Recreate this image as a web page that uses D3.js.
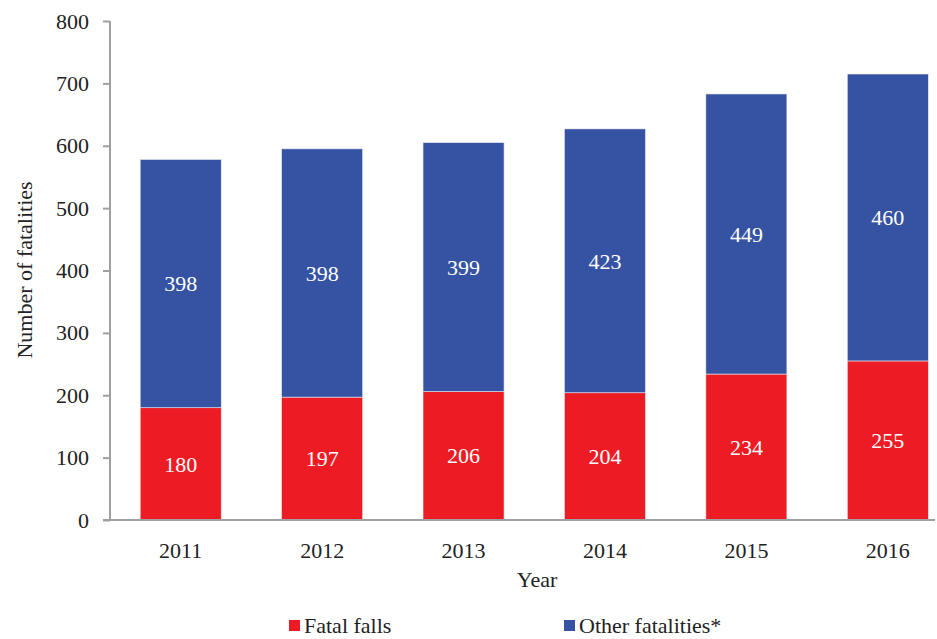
<!DOCTYPE html>
<html>
<head>
<meta charset="utf-8">
<script src="https://cdn.jsdelivr.net/npm/d3@7"></script>
<style>
  body { margin: 0; background: #fff; }
  .axis path, .axis line { stroke: #a0a0a0; stroke-width: 2px; }
</style>
</head>
<body>
<svg id="chart" width="937" height="639"></svg>
<script>
var years = ["2011", "2012", "2013", "2014", "2015", "2016"];
var fatalFalls = [180, 197, 206, 204, 234, 255];
var otherFatalities = [398, 398, 399, 423, 449, 460];
var yTicks = [0, 100, 200, 300, 400, 500, 600, 700, 800];
var seriesNames = ["Fatal falls", "Other fatalities*"];
var colors = ["#ed1c24", "#3653a3"];

var font = "'Liberation Serif', 'Times New Roman', serif";

var svg = d3.select("#chart");

var x = d3.scaleBand()
    .domain(years)
    .range([110, 958.5])
    .paddingInner(0.427)
    .paddingOuter(0.2135);

var y = d3.scaleLinear()
    .domain([0, 800])
    .range([520, 21]);

var data = years.map(function (d, i) {
    return { year: d, falls: fatalFalls[i], other: otherFatalities[i] };
});
var stacked = d3.stack().keys(["falls", "other"])(data);

// y axis
var yAxis = svg.append("g")
    .attr("class", "axis")
    .attr("transform", "translate(110,0)")
    .call(d3.axisLeft(y).tickValues(yTicks).tickSize(7).tickPadding(14).tickSizeOuter(0));
yAxis.select(".domain").remove();
yAxis.append("line").attr("x1", 0).attr("x2", 0).attr("y1", y(800)).attr("y2", y(0));
yAxis.selectAll("text").style("font-size", "22px").style("font-family", font).attr("fill", "#222");

// bars
svg.append("g").selectAll("g")
    .data(stacked)
    .enter().append("g")
    .attr("fill", function (d, i) { return colors[i]; })
    .selectAll("rect")
    .data(function (d) { return d; })
    .enter().append("rect")
    .attr("x", function (d) { return x(d.data.year); })
    .attr("width", x.bandwidth())
    .attr("y", function (d) { return y(d[1]); })
    .attr("height", function (d) { return y(d[0]) - y(d[1]); })
    .attr("stroke", "#e8e8f0")
    .attr("stroke-width", 0.6);

// value labels
svg.append("g").selectAll("g")
    .data(stacked)
    .enter().append("g")
    .selectAll("text")
    .data(function (d) { return d; })
    .enter().append("text")
    .attr("x", function (d) { return x(d.data.year) + x.bandwidth() / 2; })
    .attr("y", function (d) { return y((d[0] + d[1]) / 2); })
    .attr("dy", "0.35em")
    .attr("text-anchor", "middle")
    .style("font-size", "22px")
    .style("font-family", font)
    .style("fill", "#fff")
    .text(function (d) { return d[1] - d[0]; });

// x axis
var xAxis = svg.append("g")
    .attr("class", "axis")
    .attr("transform", "translate(0," + y(0) + ")")
    .call(d3.axisBottom(x).tickSize(0).tickPadding(22));
xAxis.select(".domain").remove();
xAxis.append("line").attr("x1", 103).attr("x2", 935).attr("y1", 0).attr("y2", 0);
xAxis.selectAll("text").style("font-size", "22px").style("font-family", font).attr("fill", "#222");

// axis titles
svg.append("text")
    .attr("x", 537)
    .attr("y", 587)
    .attr("text-anchor", "middle")
    .style("font-size", "22px")
    .style("font-family", font)
    .style("fill", "#222")
    .text("Year");

svg.append("text")
    .attr("transform", "translate(32,270) rotate(-90)")
    .attr("text-anchor", "middle")
    .style("font-size", "22px")
    .style("font-family", font)
    .style("fill", "#222")
    .text("Number of fatalities");

// legend
var legendX = [289, 564];
var legend = svg.append("g").selectAll("g")
    .data(seriesNames)
    .enter().append("g")
    .attr("transform", function (d, i) { return "translate(" + legendX[i] + ",620)"; });
legend.append("rect")
    .attr("width", 11)
    .attr("height", 11)
    .attr("fill", function (d, i) { return colors[i]; });
legend.append("text")
    .attr("x", 15)
    .attr("y", 13)
    .style("font-size", "22px")
    .style("font-family", font)
    .style("fill", "#222")
    .text(function (d) { return d; });
</script>
</body>
</html>
